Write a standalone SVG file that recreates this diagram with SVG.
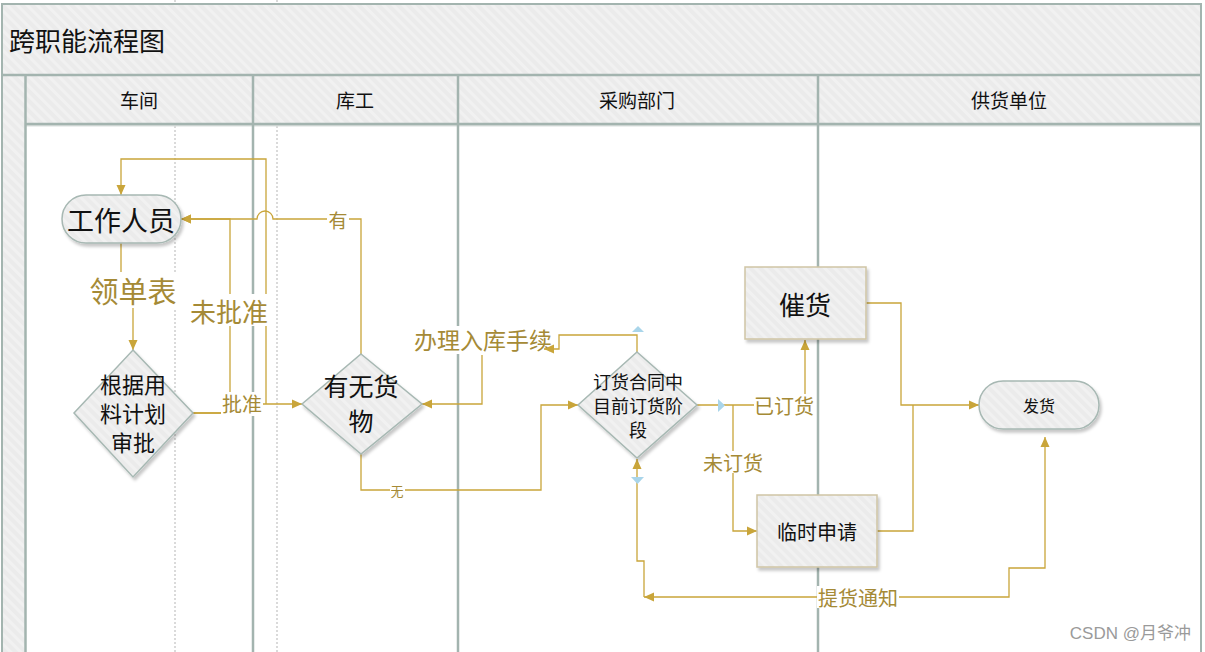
<svg xmlns="http://www.w3.org/2000/svg" width="1205" height="652" viewBox="0 0 1205 652">
<defs>
<pattern id="st" width="7" height="7" patternUnits="userSpaceOnUse" patternTransform="rotate(-45)">
<rect width="7" height="7" fill="#EBEBEB"/><rect width="3" height="7" fill="#F1F1F1"/>
</pattern>
<filter id="sh" x="-20%" y="-20%" width="140%" height="140%">
<feDropShadow dx="2" dy="3" stdDeviation="1.5" flood-color="#000" flood-opacity="0.22"/>
</filter>
<marker id="ar" viewBox="0 0 10 10" refX="10" refY="5" markerWidth="10" markerHeight="10" markerUnits="userSpaceOnUse" orient="auto-start-reverse">
<path d="M0,0.5 L10,5 L0,9.5 z" fill="#C9A53A"/>
</marker>
<style>
.ln{fill:none;stroke:#C9A53A;stroke-width:1.3}
.lb{font-family:"Noto Sans CJK SC","Noto Sans",sans-serif;fill:#A58A36;text-anchor:middle;dominant-baseline:central}
.nt{font-family:"Noto Sans CJK SC","Noto Sans",sans-serif;fill:#111;text-anchor:middle;dominant-baseline:central}
.dv{stroke:#A3B4AF;stroke-width:2.5}
.dot{stroke:#B5B5B5;stroke-width:1;stroke-dasharray:2,2}
.nd{fill:url(#st);stroke:#A7B8B3;stroke-width:1.5;filter:url(#sh)}
.rc{fill:url(#st);stroke:#CFC5A5;stroke-width:1.5;filter:url(#sh)}
.bg{fill:#fff}
.pt{fill:#A9D5EA}
</style>
</defs>
<rect width="1205" height="652" fill="#fff"/>
<g id="pool">
<rect x="2" y="4" width="1199" height="71" fill="url(#st)"/>
<rect x="2" y="75" width="24" height="580" fill="url(#st)"/>
<rect x="26" y="75" width="1175" height="49" fill="url(#st)"/>
<line class="dot" x1="175" y1="0" x2="175" y2="4"/>
<line class="dot" x1="277" y1="0" x2="277" y2="4"/>
<line class="dot" x1="175" y1="126" x2="175" y2="652"/>
<line class="dot" x1="277" y1="126" x2="277" y2="652"/>
<line x1="26" y1="125.5" x2="1200" y2="125.5" stroke="#DADFDD" stroke-width="2"/>
<rect x="2" y="4" width="1199" height="660" fill="none" stroke="#A3B4AF" stroke-width="2"/>
<line class="dv" x1="2" y1="75" x2="1201" y2="75"/>
<line class="dv" x1="26" y1="124" x2="1201" y2="124"/>
<line class="dv" x1="25.5" y1="75" x2="25.5" y2="652"/>
<line class="dv" x1="253" y1="75" x2="253" y2="652"/>
<line class="dv" x1="458" y1="75" x2="458" y2="652"/>
<line class="dv" x1="818" y1="75" x2="818" y2="652"/>
<text x="9" y="39" font-family="Noto Sans CJK SC, sans-serif" font-size="26" dominant-baseline="central" fill="#111">跨职能流程图</text>
<text class="nt" x="139" y="99" font-size="19">车间</text>
<text class="nt" x="355" y="99" font-size="19">库工</text>
<text class="nt" x="637" y="99" font-size="19">采购部门</text>
<text class="nt" x="1009" y="99" font-size="19">供货单位</text>
</g>
<g id="connectors">
<path class="ln" d="M121,243 V290 H133 V350" marker-end="url(#ar)"/>
<path class="ln" d="M193,413 H230 V219 H181" marker-end="url(#ar)"/>
<path class="ln" d="M193,413 H245 V404 H302" marker-end="url(#ar)"/>
<path class="ln" d="M266,404 V159 H121 V195" marker-end="url(#ar)"/>
<path class="ln" d="M361,354 V219 H273 A8,8 0 0 0 257,219 H181" marker-end="url(#ar)"/>
<path class="ln" d="M361,454 V490 H541 V405 H578" marker-end="url(#ar)"/>
<path class="ln" d="M482,355 V404 H422" marker-end="url(#ar)"/>
<path class="ln" d="M697,405 H805 V340" marker-end="url(#ar)"/>
<path class="ln" d="M733,405 V531 H757" marker-end="url(#ar)"/>
<path class="ln" d="M866,303 H901 V405 H979" marker-end="url(#ar)"/>
<path class="ln" d="M877,531 H913 V405"/>
<path class="ln" d="M644,597 H1009 V568 H1045 V437" marker-start="url(#ar)" marker-end="url(#ar)"/>
<path class="ln" d="M644,597 V561 H637 V459" marker-end="url(#ar)"/>
<rect class="bg" x="86" y="272" width="94" height="36"/>
<text class="lb" x="133" y="290" font-size="29">领单表</text>
<rect class="bg" x="188" y="294" width="82" height="32"/>
<text class="lb" x="229" y="310" font-size="26">未批准</text>
<rect class="bg" x="221" y="392" width="42" height="24"/>
<text class="lb" x="242" y="403" font-size="20">批准</text>
<rect class="bg" x="327" y="208" width="22" height="22"/>
<text class="lb" x="338" y="219" font-size="19">有</text>
<rect class="bg" x="390" y="483" width="15" height="14"/>
<text class="lb" x="397" y="490" font-size="13">无</text>
<rect class="bg" x="410" y="326" width="145" height="28"/>
<text class="lb" x="483" y="339" font-size="23">办理入库手续</text>
<path class="ln" d="M637,352 V335 H559 V349 H544" marker-end="url(#ar)"/>
<rect class="bg" x="754" y="394" width="60" height="22"/>
<text class="lb" x="784" y="405" font-size="20">已订货</text>
<rect class="bg" x="702" y="451" width="62" height="22"/>
<text class="lb" x="733" y="462" font-size="20">未订货</text>
<rect class="bg" x="817" y="586" width="82" height="22"/>
<text class="lb" x="858" y="597" font-size="20">提货通知</text>
<polygon class="pt" points="632,332 638,326 644,332"/>
<polygon class="pt" points="718,399 725,405.5 718,412"/>
<polygon class="pt" points="631,477 644,477 637.5,484"/>
</g>
<g id="n-staff">
<rect class="nd" x="62" y="195" width="119" height="48" rx="24"/>
<text class="nt" x="121" y="219" font-size="27">工作人员</text>
</g>
<g id="n-approve">
<polygon class="nd" points="133,350 193,413 133,477 74,413"/>
<text class="nt" font-size="22"><tspan x="133" y="383">根据用</tspan><tspan x="133" y="412">料计划</tspan><tspan x="133" y="441">审批</tspan></text>
</g>
<g id="n-stock">
<polygon class="nd" points="361,354 422,404 361,454 302,404"/>
<text class="nt" font-size="25"><tspan x="361" y="385">有无货</tspan><tspan x="361" y="420">物</tspan></text>
</g>
<g id="n-stage">
<polygon class="nd" points="637,352 697,405 637,458 578,405"/>
<text class="nt" font-size="18"><tspan x="638" y="381">订货合同中</tspan><tspan x="638" y="405">目前订货阶</tspan><tspan x="638" y="429">段</tspan></text>
</g>
<g id="n-urge">
<rect class="rc" x="745" y="267" width="121" height="72"/>
<text class="nt" x="805" y="303" font-size="26">催货</text>
</g>
<g id="n-temp">
<rect class="rc" x="757" y="495" width="120" height="72"/>
<text class="nt" x="817" y="531" font-size="20">临时申请</text>
</g>
<g id="n-ship">
<rect class="nd" x="979" y="381" width="120" height="48" rx="24"/>
<text class="nt" x="1039" y="405" font-size="16">发货</text>
</g>
<text x="1191" y="633" font-family="Liberation Sans, Noto Sans CJK SC, sans-serif" font-size="17" fill="#9A9A9A" text-anchor="end" dominant-baseline="central">CSDN @月爷冲</text>
</svg>
